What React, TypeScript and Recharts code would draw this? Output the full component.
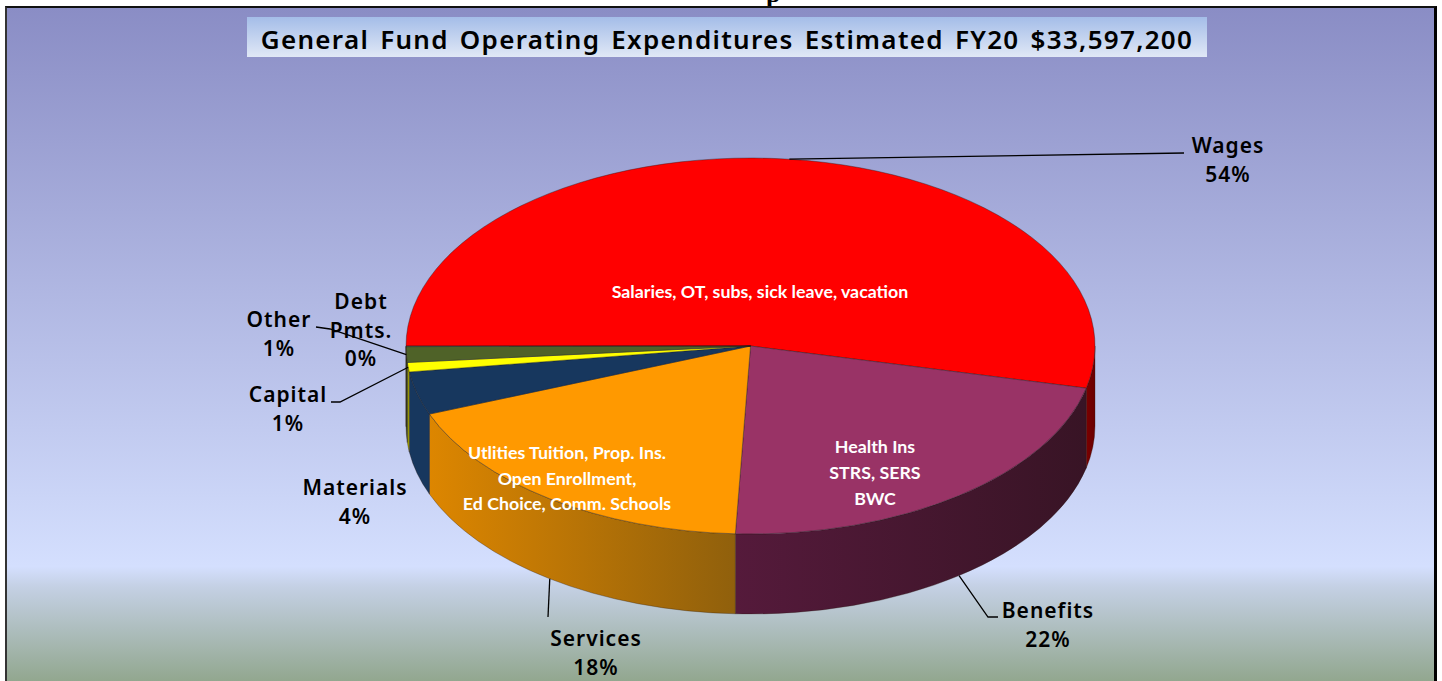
import React from 'react';
import { PieChart, Pie } from 'recharts';

// Estimated shares (labels below are the printed, rounded ones)
const categories = ['Wages', 'Benefits', 'Services', 'Materials', 'Capital', 'Other', 'Debt Pmts.'];
const shares = [53.6, 22.1, 18.4, 3.7, 0.8, 1.35, 0.05];
const printedPercents = ['54%', '22%', '18%', '4%', '1%', '1%', '0%'];
const notes = [
  ['Salaries, OT, subs, sick leave, vacation'],
  ['Health Ins', 'STRS, SERS', 'BWC'],
  ['Utlities Tuition, Prop. Ins.', 'Open Enrollment,', 'Ed Choice, Comm. Schools'],
  [],
  [],
  [],
  [],
];

const chartData = categories.map((name, i) => ({ name, value: shares[i] }));

const TOP_COLORS = ['#FF0000', '#993366', '#FF9900', '#17375E', '#FFFF00', '#4F6228', '#4F6228'];
const WALL_COLORS = [
  ['#7a0000', '#6a0000'],
  ['#551a3b', '#381425'],
  ['#dd8600', '#90600c'],
  ['#17375E', '#17375E'],
  ['#a0a000', '#a0a000'],
  ['#3c4a1e', '#3c4a1e'],
  ['#3c4a1e', '#3c4a1e'],
];

const CX = 750.5;
const CY = 346;
const RADIUS = 344.5;
const TILT = 0.5457;
const DEPTH = 80;

const rad = (a: number) => (a * Math.PI) / 180;
const px = (cx: number, r: number, a: number) => cx + r * Math.cos(rad(a));
const py = (cy: number, r: number, a: number) => cy - r * TILT * Math.sin(rad(a));

// label placement: text centre, first baseline, leader elbows (null = no leader)
const LABEL_LAYOUT: Record<string, { x: number; y: number; elbows: number[][] | null; onWall?: boolean }> = {
  Wages: { x: 1228, y: 153, elbows: [[1184, 153]] },
  Benefits: { x: 1048, y: 618, elbows: [[988, 617], [998, 617]], onWall: true },
  Services: { x: 596, y: 646, elbows: [[548, 617]], onWall: true },
  Materials: { x: 355, y: 495, elbows: null },
  Capital: { x: 288, y: 402, elbows: [[340, 402], [331, 402]] },
  Other: { x: 279, y: 327, elbows: [[330, 329], [316, 327]] },
  'Debt Pmts.': { x: 361, y: 309, elbows: null },
};

const NOTE_LAYOUT: Record<string, { x: number; y: number; step: number }> = {
  Wages: { x: 760, y: 298, step: 0 },
  Benefits: { x: 875, y: 453, step: 26 },
  Services: { x: 567, y: 459, step: 25.5 },
};

const Slice3D = (props: any) => {
  const { cx, cy, outerRadius: r, startAngle, endAngle } = props;
  const name = props.name ?? props.payload?.name;
  const i = categories.indexOf(name);
  const ry = r * TILT;
  const large = Math.abs(startAngle - endAngle) > 180 ? 1 : 0;
  const top = `M${cx},${cy} L${px(cx, r, startAngle)},${py(cy, r, startAngle)} A${r},${ry} 0 ${large} 1 ${px(cx, r, endAngle)},${py(cy, r, endAngle)} Z`;

  // the side wall only shows on the front half of the disc
  const a1 = Math.min(startAngle, 0);
  const a2 = Math.max(endAngle, -180);
  let wall = '';
  if (a1 > a2) {
    const x1 = px(cx, r, a1);
    const y1 = py(cy, r, a1);
    const x2 = px(cx, r, a2);
    const y2 = py(cy, r, a2);
    wall = `M${x1},${y1} A${r},${ry} 0 0 1 ${x2},${y2} L${x2},${y2 + DEPTH} A${r},${ry} 0 0 0 ${x1},${y1 + DEPTH} Z`;
  }

  return (
    <g>
      <defs>
        <linearGradient id={`wall-${i}`} x1="0" y1="0" x2="1" y2="0">
          <stop offset="0%" stopColor={WALL_COLORS[i][0]} />
          <stop offset="100%" stopColor={WALL_COLORS[i][1]} />
        </linearGradient>
      </defs>
      {wall && <path d={wall} fill={`url(#wall-${i})`} stroke="#2a1a10" strokeOpacity={0.45} strokeWidth={0.7} />}
      <path d={top} fill={TOP_COLORS[i]} stroke="#1a1a1a" strokeOpacity={0.55} strokeWidth={0.7} />
    </g>
  );
};

const SliceLabel = (props: any) => {
  const { cx, cy, outerRadius: r, midAngle, name, index } = props;
  const layout = LABEL_LAYOUT[name];
  const note = NOTE_LAYOUT[name];
  const sx = px(cx, r, midAngle);
  const sy = py(cy, r, midAngle) + (layout.onWall ? DEPTH : 0);
  const lines = name === 'Debt Pmts.' ? ['Debt', 'Pmts.'] : [name];
  const outer = [...lines, printedPercents[index]];
  return (
    <g>
      {layout.elbows && (
        <polyline
          points={[[sx, sy], ...layout.elbows].map((p) => p.join(',')).join(' ')}
          fill="none"
          stroke="#000"
          strokeWidth={1.3}
        />
      )}
      {outer.map((t, k) => (
        <text
          key={t}
          x={layout.x}
          y={layout.y + k * 28.7}
          textAnchor="middle"
          fontFamily="'Noto Sans', sans-serif"
          fontWeight={600}
          fontSize={21}
          letterSpacing={1}
          fill="#000"
        >
          {t}
        </text>
      ))}
      {note &&
        notes[index].map((t, k) => (
          <text
            key={t}
            x={note.x}
            y={note.y + k * note.step}
            textAnchor="middle"
            fontFamily="Lato, sans-serif"
            fontWeight={700}
            fontSize={17.8}
            fill="#fff"
          >
            {t}
          </text>
        ))}
    </g>
  );
};

export default function App() {
  return (
    <div style={{ position: 'absolute', left: 0, top: 0, width: 1442, height: 681, overflow: 'hidden', background: '#fff' }}>
      {/* descender of a title cut off by the crop */}
      <div style={{ position: 'absolute', left: 766, top: 0, width: 30, height: 6, overflow: 'hidden' }}>
        <div style={{ fontFamily: "'Liberation Serif', serif", fontWeight: 700, fontSize: 26, lineHeight: '26px', marginTop: -19 }}>p</div>
      </div>
      <div
        style={{
          position: 'absolute',
          left: 5,
          top: 6,
          width: 1432,
          height: 675,
          boxSizing: 'border-box',
          borderTop: '2px solid #111',
          borderLeft: '2px solid #333',
          borderRight: '3px solid #000',
          background: 'linear-gradient(180deg, #8a8dc5 0%, #d4dffe 83%, #c4d0e4 86%, #92a78f 100%)',
        }}
      />
      <div
        style={{
          position: 'absolute',
          left: 247,
          top: 17,
          width: 960,
          height: 40,
          background: 'linear-gradient(180deg, #a4bde8, #e0e8f6)',
          textAlign: 'center',
          fontFamily: "'Noto Sans', sans-serif",
          fontWeight: 600,
          fontSize: 26,
          lineHeight: '44px',
          letterSpacing: 1.3,
          wordSpacing: 3,
          color: '#000',
          whiteSpace: 'nowrap',
        }}
      >
        General Fund Operating Expenditures Estimated FY20 $33,597,200
      </div>
      <div style={{ position: 'absolute', left: 0, top: 0 }}>
        <PieChart width={1442} height={681} margin={{ top: 0, right: 0, bottom: 0, left: 0 }}>
          <Pie
            data={chartData}
            dataKey="value"
            nameKey="name"
            cx={CX}
            cy={CY}
            outerRadius={RADIUS}
            startAngle={180}
            endAngle={-180}
            paddingAngle={0}
            stroke="none"
            shape={Slice3D}
            label={SliceLabel}
            labelLine={false}
            isAnimationActive={false}
          />
        </PieChart>
      </div>
    </div>
  );
}
